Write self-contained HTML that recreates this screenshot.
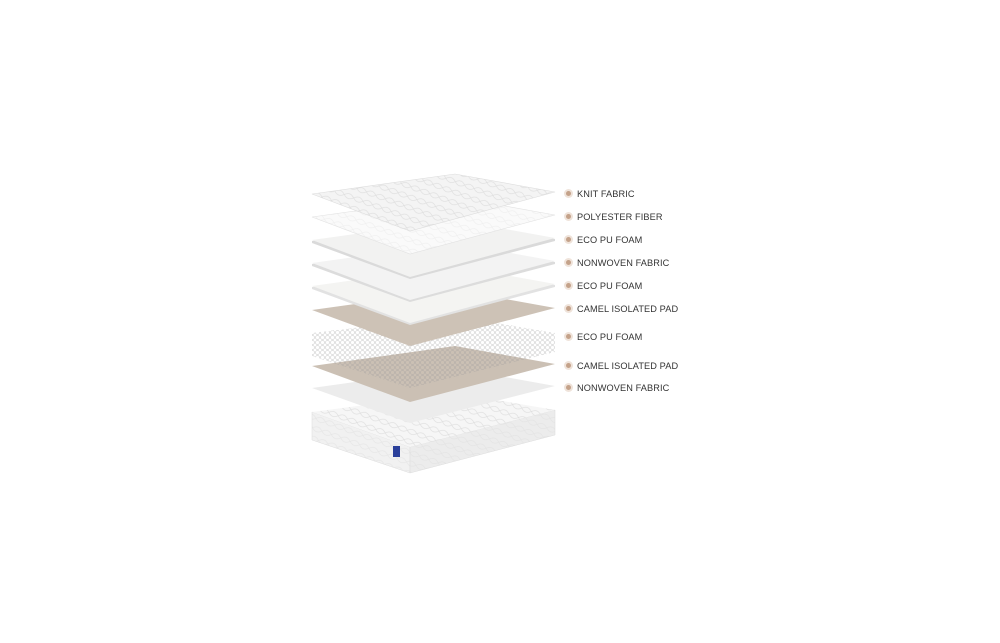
<!DOCTYPE html>
<html><head><style>
html,body{margin:0;padding:0;background:#fff;}
body{width:1000px;height:643px;position:relative;overflow:hidden;font-family:"Liberation Sans",sans-serif;}
.l{position:absolute;left:577px;font-size:9.2px;color:#333;letter-spacing:0.1px;line-height:12px;}
.d{position:absolute;left:564px;width:9px;height:9px;border-radius:50%;background:#efe3da;}
.d::after{content:"";position:absolute;left:2px;top:2px;width:5px;height:5px;border-radius:50%;background:#c4a28a;}
</style></head><body>
<svg width="1000" height="643" style="position:absolute;left:0;top:0">
<defs>
<pattern id="q" width="10" height="10" patternUnits="userSpaceOnUse" patternTransform="rotate(20)">
<path d="M0 5 Q5 0 10 5 Q5 10 0 5" fill="none" stroke="#dcdcdc" stroke-width="0.6"/>
</pattern>
<pattern id="s" width="5" height="5" patternUnits="userSpaceOnUse">
<circle cx="2.5" cy="2.5" r="2" fill="none" stroke="#999" stroke-width="0.4"/>
</pattern>
</defs>
<polygon points="312,412 410,447 410,473 312,440" fill="#f1f1f1" stroke="#ddd" stroke-width="0.5"/>
<polygon points="410,447 555,410 555,435 410,473" fill="#ececec" stroke="#ddd" stroke-width="0.5"/>
<polygon points="312,412 455,393 555,410 410,447" fill="#f6f6f6"/>
<polygon points="312,412 455,393 555,410 410,447" fill="url(#q)"/>
<polygon points="312,412 410,447 410,473 312,440" fill="url(#q)" opacity="0.6"/>
<polygon points="410,447 555,410 555,435 410,473" fill="url(#q)" opacity="0.6"/>
<rect x="393" y="446" width="7" height="11" fill="#2a3f9a"/>
<polygon points="312,388 455,368 555,386 410,423" fill="#ececec"/>
<polygon points="312,366 455,346 555,364 410,402" fill="#cbc0b4"/>
<polygon points="312,333 455,316 555,333 555,352 410,388 312,356" fill="url(#s)" opacity="0.75"/>
<polygon points="312,310 455,290 555,308 410,346" fill="#cdc2b6"/>
<polygon points="312,287 455,267 555,285 555,287 410,325 312,289" fill="#e2e2e2"/>
<polygon points="312,286 455,266 555,284 410,323" fill="#f4f4f2"/>
<polygon points="312,264 455,244 555,262 555,264 410,302 312,266" fill="#dcdcdc"/>
<polygon points="312,263 455,243 555,261 410,300" fill="#f3f3f3"/>
<polygon points="312,241 455,221 555,239 555,241 410,279 312,243" fill="#dadada"/>
<polygon points="312,240 455,220 555,238 410,277" fill="#f2f2f1"/>
<polygon points="312,217 455,197 555,215 410,254" fill="#fafafa" stroke="#e2e2e2" stroke-width="0.6"/>
<polygon points="312,217 455,197 555,215 410,254" fill="url(#q)" opacity="0.4"/>
<polygon points="312,194 455,174 555,192 410,231" fill="#f4f4f4" stroke="#ddd" stroke-width="0.6"/>
<polygon points="312,194 455,174 555,192 410,231" fill="url(#q)"/>
</svg>
<div class="d" style="top:189px"></div><div class="l" style="top:188px">KNIT FABRIC</div>
<div class="d" style="top:212px"></div><div class="l" style="top:211px">POLYESTER FIBER</div>
<div class="d" style="top:235px"></div><div class="l" style="top:234px">ECO PU FOAM</div>
<div class="d" style="top:258px"></div><div class="l" style="top:257px">NONWOVEN FABRIC</div>
<div class="d" style="top:281px"></div><div class="l" style="top:280px">ECO PU FOAM</div>
<div class="d" style="top:304px"></div><div class="l" style="top:303px">CAMEL ISOLATED PAD</div>
<div class="d" style="top:332px"></div><div class="l" style="top:331px">ECO PU FOAM</div>
<div class="d" style="top:361px"></div><div class="l" style="top:360px">CAMEL ISOLATED PAD</div>
<div class="d" style="top:383px"></div><div class="l" style="top:382px">NONWOVEN FABRIC</div>
</body></html>
